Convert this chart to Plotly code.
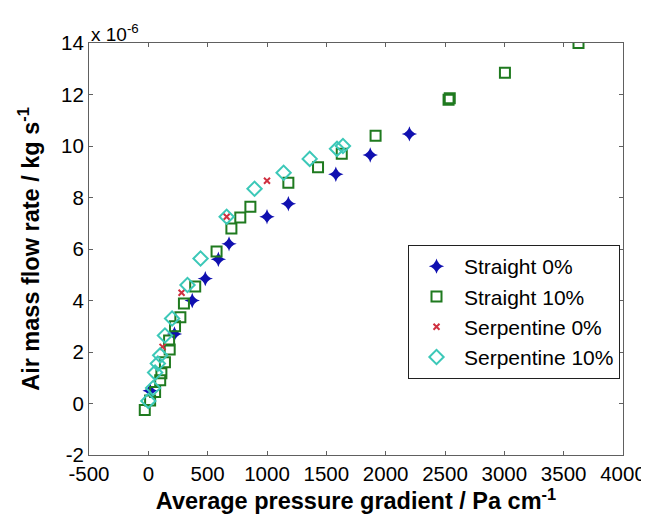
import plotly.graph_objects as go

# Straight 0%
s0_x = [15, 220, 370, 480, 590, 680, 1000, 1180, 1580, 1870, 2200]
s0_y = [0.5, 2.7, 4.0, 4.85, 5.6, 6.2, 7.25, 7.76, 8.9, 9.65, 10.47]
# Straight 10%
s10_x = [-30, 15, 57, 100, 110, 140, 180, 175, 225, 270, 300, 395, 575, 700, 775, 860,
         1180, 1430, 1630, 1915, 2530, 2540, 3005, 3625]
s10_y = [-0.25, 0.12, 0.45, 0.9, 1.17, 1.6, 2.1, 2.45, 3.0, 3.35, 3.88, 4.54, 5.9, 6.8, 7.22, 7.64,
         8.57, 9.17, 9.7, 10.4, 11.8, 11.85, 12.84, 14.0]
# Serpentine 0%
p0_x = [120, 280, 660, 1000]
p0_y = [2.2, 4.3, 7.25, 8.65]
# Serpentine 10%
p10_x = [0, 40, 57, 80, 100, 140, 200, 330, 440, 660, 895, 1140, 1360, 1590, 1640]
p10_y = [0.1, 0.6, 1.2, 1.55, 1.87, 2.64, 3.3, 4.6, 5.63, 7.25, 8.34, 8.96, 9.5, 9.89, 10.0]

x_ticks = [-500, 0, 500, 1000, 1500, 2000, 2500, 3000, 3500, 4000]
y_ticks = [-2, 0, 2, 4, 6, 8, 10, 12, 14]

FONT = "Liberation Sans, Arial, Helvetica"

fig = go.Figure()
fig.add_trace(go.Scatter(x=s0_x, y=s0_y, mode="markers", name="Straight 0%", legendgroup="a",
                         marker=dict(symbol="star-diamond", size=11, color="#1010B0",
                                     line=dict(width=0))))
fig.add_trace(go.Scatter(x=s10_x, y=s10_y, mode="markers", name="Straight 10%", legendgroup="b",
                         marker=dict(symbol="square-open", size=10, color="#1F7A1F",
                                     line=dict(width=2))))
fig.add_trace(go.Scatter(x=p0_x, y=p0_y, mode="markers", name="Serpentine 0%", legendgroup="c",
                         marker=dict(symbol="x-thin-open", size=6, color="#D03040",
                                     line=dict(width=2, color="#D03040"))))
fig.add_trace(go.Scatter(x=p10_x, y=p10_y, mode="markers", name="Serpentine 10%", legendgroup="d",
                         marker=dict(symbol="diamond-open", size=11, color="#3CC8B8",
                                     line=dict(width=2))))

axis_common = dict(
    showline=True, linecolor="#606060", linewidth=1, mirror="ticks",
    ticks="inside", ticklen=4, tickcolor="#606060",
    showgrid=False, zeroline=False, automargin=False,
    tickfont=dict(family=FONT, size=20.5, color="black"),
)
fig.update_xaxes(range=[-500, 4000], tickvals=x_ticks, ticktext=[str(v) for v in x_ticks],
                 title=dict(text="<b>Average pressure gradient / Pa cm<sup>-1</sup></b>",
                            font=dict(family=FONT, size=23.5, color="black"),
                            standoff=3),
                 **axis_common)
fig.update_yaxes(range=[-2, 14], tickvals=y_ticks, ticktext=[str(v) for v in y_ticks],
                 title=dict(text="<b>Air mass flow rate / kg s<sup>-1</sup></b>",
                            font=dict(family=FONT, size=23.5, color="black"),
                            standoff=14),
                 **axis_common)

fig.add_annotation(text="x 10<sup>-6</sup>", xref="paper", yref="paper", x=0.0, y=1.0,
                   xanchor="left", yanchor="bottom", showarrow=False, yshift=-4,
                   font=dict(family=FONT, size=19, color="black"))

fig.update_layout(
    width=641, height=511,
    margin=dict(l=81, r=26, t=35, b=64),
    plot_bgcolor="white", paper_bgcolor="white",
    showlegend=True,
    legend=dict(x=(408 - 89) / 534, y=(455 - 245) / 412, xanchor="left", yanchor="top",
                bordercolor="#202020", borderwidth=1, bgcolor="white",
                font=dict(family=FONT, size=21, color="black"),
                tracegroupgap=0, itemwidth=45),
)

fig.write_html("out.html")
